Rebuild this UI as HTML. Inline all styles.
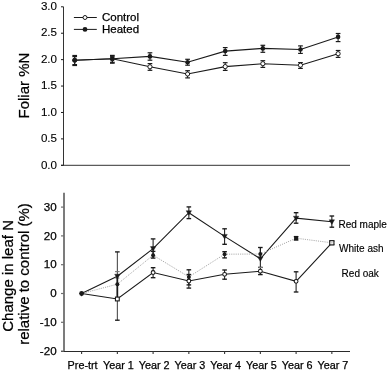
<!DOCTYPE html>
<html><head><meta charset="utf-8"><style>
html,body{margin:0;padding:0;background:#fff;}
body{width:388px;height:371px;overflow:hidden;}
svg{display:block;will-change:transform;font-family:"Liberation Sans",sans-serif;fill:#111;}
text{fill:#000;stroke:#000;stroke-width:0.25px;}
</style></head><body>
<svg width="388" height="371" viewBox="0 0 388 371">
<line x1="63.5" y1="6.80" x2="63.5" y2="165.3" stroke="#333" stroke-width="1"/>
<line x1="61" y1="165.3" x2="350" y2="165.3" stroke="#333" stroke-width="1"/>
<line x1="61" y1="165.30" x2="63.5" y2="165.30" stroke="#1a1a1a" stroke-width="1"/>
<text x="57" y="168.50" text-anchor="end" font-size="11.6" style="stroke-width:0.12px">0.0</text>
<line x1="61" y1="138.88" x2="63.5" y2="138.88" stroke="#1a1a1a" stroke-width="1"/>
<text x="57" y="142.08" text-anchor="end" font-size="11.6" style="stroke-width:0.12px">0.5</text>
<line x1="61" y1="112.47" x2="63.5" y2="112.47" stroke="#1a1a1a" stroke-width="1"/>
<text x="57" y="115.67" text-anchor="end" font-size="11.6" style="stroke-width:0.12px">1.0</text>
<line x1="61" y1="86.05" x2="63.5" y2="86.05" stroke="#1a1a1a" stroke-width="1"/>
<text x="57" y="89.25" text-anchor="end" font-size="11.6" style="stroke-width:0.12px">1.5</text>
<line x1="61" y1="59.63" x2="63.5" y2="59.63" stroke="#1a1a1a" stroke-width="1"/>
<text x="57" y="62.83" text-anchor="end" font-size="11.6" style="stroke-width:0.12px">2.0</text>
<line x1="61" y1="33.22" x2="63.5" y2="33.22" stroke="#1a1a1a" stroke-width="1"/>
<text x="57" y="36.42" text-anchor="end" font-size="11.6" style="stroke-width:0.12px">2.5</text>
<line x1="61" y1="6.80" x2="63.5" y2="6.80" stroke="#1a1a1a" stroke-width="1"/>
<text x="57" y="10.00" text-anchor="end" font-size="11.6" style="stroke-width:0.12px">3.0</text>
<text transform="translate(29.3,85.6) rotate(-90)" text-anchor="middle" font-size="15">Foliar %N</text>
<polyline points="74.70,60.20 112.33,58.80 149.96,66.80 187.59,74.00 225.21,66.60 262.84,63.70 300.47,65.20 338.10,53.70" fill="none" stroke="#1a1a1a" stroke-width="1.1"/>
<polyline points="74.70,60.20 112.33,58.80 149.96,56.40 187.59,62.20 225.21,51.10 262.84,48.40 300.47,49.50 338.10,36.90" fill="none" stroke="#1a1a1a" stroke-width="1.1"/>
<line x1="74.70" y1="56.60" x2="74.70" y2="64.60" stroke="#1a1a1a" stroke-width="1.0"/><line x1="72.35" y1="56.60" x2="77.05" y2="56.60" stroke="#1a1a1a" stroke-width="1.2"/><line x1="72.35" y1="64.60" x2="77.05" y2="64.60" stroke="#1a1a1a" stroke-width="1.2"/>
<line x1="112.33" y1="56.30" x2="112.33" y2="62.30" stroke="#1a1a1a" stroke-width="1.0"/><line x1="109.98" y1="56.30" x2="114.68" y2="56.30" stroke="#1a1a1a" stroke-width="1.2"/><line x1="109.98" y1="62.30" x2="114.68" y2="62.30" stroke="#1a1a1a" stroke-width="1.2"/>
<line x1="149.96" y1="63.60" x2="149.96" y2="70.30" stroke="#1a1a1a" stroke-width="1.0"/><line x1="147.61" y1="63.60" x2="152.31" y2="63.60" stroke="#1a1a1a" stroke-width="1.2"/><line x1="147.61" y1="70.30" x2="152.31" y2="70.30" stroke="#1a1a1a" stroke-width="1.2"/>
<line x1="187.59" y1="70.70" x2="187.59" y2="77.90" stroke="#1a1a1a" stroke-width="1.0"/><line x1="185.24" y1="70.70" x2="189.94" y2="70.70" stroke="#1a1a1a" stroke-width="1.2"/><line x1="185.24" y1="77.90" x2="189.94" y2="77.90" stroke="#1a1a1a" stroke-width="1.2"/>
<line x1="225.21" y1="62.70" x2="225.21" y2="70.40" stroke="#1a1a1a" stroke-width="1.0"/><line x1="222.86" y1="62.70" x2="227.56" y2="62.70" stroke="#1a1a1a" stroke-width="1.2"/><line x1="222.86" y1="70.40" x2="227.56" y2="70.40" stroke="#1a1a1a" stroke-width="1.2"/>
<line x1="262.84" y1="60.70" x2="262.84" y2="67.40" stroke="#1a1a1a" stroke-width="1.0"/><line x1="260.49" y1="60.70" x2="265.19" y2="60.70" stroke="#1a1a1a" stroke-width="1.2"/><line x1="260.49" y1="67.40" x2="265.19" y2="67.40" stroke="#1a1a1a" stroke-width="1.2"/>
<line x1="300.47" y1="62.60" x2="300.47" y2="68.40" stroke="#1a1a1a" stroke-width="1.0"/><line x1="298.12" y1="62.60" x2="302.82" y2="62.60" stroke="#1a1a1a" stroke-width="1.2"/><line x1="298.12" y1="68.40" x2="302.82" y2="68.40" stroke="#1a1a1a" stroke-width="1.2"/>
<line x1="338.10" y1="50.50" x2="338.10" y2="57.40" stroke="#1a1a1a" stroke-width="1.0"/><line x1="335.75" y1="50.50" x2="340.45" y2="50.50" stroke="#1a1a1a" stroke-width="1.2"/><line x1="335.75" y1="57.40" x2="340.45" y2="57.40" stroke="#1a1a1a" stroke-width="1.2"/>
<line x1="74.70" y1="55.50" x2="74.70" y2="65.50" stroke="#1a1a1a" stroke-width="1.0"/><line x1="72.35" y1="55.50" x2="77.05" y2="55.50" stroke="#1a1a1a" stroke-width="1.2"/><line x1="72.35" y1="65.50" x2="77.05" y2="65.50" stroke="#1a1a1a" stroke-width="1.2"/>
<line x1="112.33" y1="55.40" x2="112.33" y2="63.20" stroke="#1a1a1a" stroke-width="1.0"/><line x1="109.98" y1="55.40" x2="114.68" y2="55.40" stroke="#1a1a1a" stroke-width="1.2"/><line x1="109.98" y1="63.20" x2="114.68" y2="63.20" stroke="#1a1a1a" stroke-width="1.2"/>
<line x1="149.96" y1="52.80" x2="149.96" y2="60.20" stroke="#1a1a1a" stroke-width="1.0"/><line x1="147.61" y1="52.80" x2="152.31" y2="52.80" stroke="#1a1a1a" stroke-width="1.2"/><line x1="147.61" y1="60.20" x2="152.31" y2="60.20" stroke="#1a1a1a" stroke-width="1.2"/>
<line x1="187.59" y1="59.30" x2="187.59" y2="65.20" stroke="#1a1a1a" stroke-width="1.0"/><line x1="185.24" y1="59.30" x2="189.94" y2="59.30" stroke="#1a1a1a" stroke-width="1.2"/><line x1="185.24" y1="65.20" x2="189.94" y2="65.20" stroke="#1a1a1a" stroke-width="1.2"/>
<line x1="225.21" y1="47.60" x2="225.21" y2="55.40" stroke="#1a1a1a" stroke-width="1.0"/><line x1="222.86" y1="47.60" x2="227.56" y2="47.60" stroke="#1a1a1a" stroke-width="1.2"/><line x1="222.86" y1="55.40" x2="227.56" y2="55.40" stroke="#1a1a1a" stroke-width="1.2"/>
<line x1="262.84" y1="45.30" x2="262.84" y2="52.30" stroke="#1a1a1a" stroke-width="1.0"/><line x1="260.49" y1="45.30" x2="265.19" y2="45.30" stroke="#1a1a1a" stroke-width="1.2"/><line x1="260.49" y1="52.30" x2="265.19" y2="52.30" stroke="#1a1a1a" stroke-width="1.2"/>
<line x1="300.47" y1="45.90" x2="300.47" y2="53.40" stroke="#1a1a1a" stroke-width="1.0"/><line x1="298.12" y1="45.90" x2="302.82" y2="45.90" stroke="#1a1a1a" stroke-width="1.2"/><line x1="298.12" y1="53.40" x2="302.82" y2="53.40" stroke="#1a1a1a" stroke-width="1.2"/>
<line x1="338.10" y1="33.50" x2="338.10" y2="41.60" stroke="#1a1a1a" stroke-width="1.0"/><line x1="335.75" y1="33.50" x2="340.45" y2="33.50" stroke="#1a1a1a" stroke-width="1.2"/><line x1="335.75" y1="41.60" x2="340.45" y2="41.60" stroke="#1a1a1a" stroke-width="1.2"/>
<circle cx="74.70" cy="60.20" r="2.1" fill="#fff" stroke="#1a1a1a" stroke-width="1"/>
<circle cx="112.33" cy="58.80" r="2.1" fill="#fff" stroke="#1a1a1a" stroke-width="1"/>
<circle cx="149.96" cy="66.80" r="2.1" fill="#fff" stroke="#1a1a1a" stroke-width="1"/>
<circle cx="187.59" cy="74.00" r="2.1" fill="#fff" stroke="#1a1a1a" stroke-width="1"/>
<circle cx="225.21" cy="66.60" r="2.1" fill="#fff" stroke="#1a1a1a" stroke-width="1"/>
<circle cx="262.84" cy="63.70" r="2.1" fill="#fff" stroke="#1a1a1a" stroke-width="1"/>
<circle cx="300.47" cy="65.20" r="2.1" fill="#fff" stroke="#1a1a1a" stroke-width="1"/>
<circle cx="338.10" cy="53.70" r="2.1" fill="#fff" stroke="#1a1a1a" stroke-width="1"/>
<circle cx="74.70" cy="60.20" r="2.3" fill="#1a1a1a"/>
<circle cx="112.33" cy="58.80" r="2.3" fill="#1a1a1a"/>
<circle cx="149.96" cy="56.40" r="2.3" fill="#1a1a1a"/>
<circle cx="187.59" cy="62.20" r="2.3" fill="#1a1a1a"/>
<circle cx="225.21" cy="51.10" r="2.3" fill="#1a1a1a"/>
<circle cx="262.84" cy="48.40" r="2.3" fill="#1a1a1a"/>
<circle cx="300.47" cy="49.50" r="2.3" fill="#1a1a1a"/>
<circle cx="338.10" cy="36.90" r="2.3" fill="#1a1a1a"/>
<line x1="73.9" y1="17.5" x2="96.8" y2="17.5" stroke="#1a1a1a" stroke-width="1"/>
<circle cx="85" cy="17.5" r="2.0" fill="#fff" stroke="#1a1a1a" stroke-width="1"/>
<line x1="73.9" y1="29.4" x2="96.8" y2="29.4" stroke="#1a1a1a" stroke-width="1"/>
<circle cx="85" cy="29.4" r="2.4" fill="#1a1a1a"/>
<text x="102" y="20.6" font-size="11.5">Control</text>
<text x="102" y="32.5" font-size="11.5">Heated</text>
<line x1="64.0" y1="192.70" x2="64.0" y2="351.90" stroke="#6e6e6e" stroke-width="1.8"/>
<line x1="61" y1="351.50" x2="350" y2="351.50" stroke="#2a2a2a" stroke-width="1.1"/>
<line x1="61" y1="351.10" x2="64.0" y2="351.10" stroke="#6e6e6e" stroke-width="1.2"/>
<text x="56.6" y="354.80" text-anchor="end" font-size="11.6">-20</text>
<line x1="61" y1="322.30" x2="64.0" y2="322.30" stroke="#6e6e6e" stroke-width="1.2"/>
<text x="56.6" y="326.00" text-anchor="end" font-size="11.6">-10</text>
<line x1="61" y1="293.50" x2="64.0" y2="293.50" stroke="#6e6e6e" stroke-width="1.2"/>
<text x="56.6" y="297.20" text-anchor="end" font-size="11.6">0</text>
<line x1="61" y1="264.70" x2="64.0" y2="264.70" stroke="#6e6e6e" stroke-width="1.2"/>
<text x="56.6" y="268.40" text-anchor="end" font-size="11.6">10</text>
<line x1="61" y1="235.90" x2="64.0" y2="235.90" stroke="#6e6e6e" stroke-width="1.2"/>
<text x="56.6" y="239.60" text-anchor="end" font-size="11.6">20</text>
<line x1="61" y1="207.10" x2="64.0" y2="207.10" stroke="#6e6e6e" stroke-width="1.2"/>
<text x="56.6" y="210.80" text-anchor="end" font-size="11.6">30</text>
<line x1="81.60" y1="351.10" x2="81.60" y2="354.10" stroke="#333" stroke-width="1.1"/>
<text x="82.60" y="369.3" text-anchor="middle" font-size="10.8">Pre-trt</text>
<line x1="117.35" y1="351.10" x2="117.35" y2="354.10" stroke="#333" stroke-width="1.1"/>
<text x="118.35" y="369.3" text-anchor="middle" font-size="10.8">Year 1</text>
<line x1="153.10" y1="351.10" x2="153.10" y2="354.10" stroke="#333" stroke-width="1.1"/>
<text x="154.10" y="369.3" text-anchor="middle" font-size="10.8">Year 2</text>
<line x1="188.85" y1="351.10" x2="188.85" y2="354.10" stroke="#333" stroke-width="1.1"/>
<text x="189.85" y="369.3" text-anchor="middle" font-size="10.8">Year 3</text>
<line x1="224.60" y1="351.10" x2="224.60" y2="354.10" stroke="#333" stroke-width="1.1"/>
<text x="225.60" y="369.3" text-anchor="middle" font-size="10.8">Year 4</text>
<line x1="260.35" y1="351.10" x2="260.35" y2="354.10" stroke="#333" stroke-width="1.1"/>
<text x="261.35" y="369.3" text-anchor="middle" font-size="10.8">Year 5</text>
<line x1="296.10" y1="351.10" x2="296.10" y2="354.10" stroke="#333" stroke-width="1.1"/>
<text x="297.10" y="369.3" text-anchor="middle" font-size="10.8">Year 6</text>
<line x1="331.85" y1="351.10" x2="331.85" y2="354.10" stroke="#333" stroke-width="1.1"/>
<text x="332.85" y="369.3" text-anchor="middle" font-size="10.8">Year 7</text>
<text transform="translate(12.9,275.9) rotate(-90)" text-anchor="middle" font-size="15">Change in leaf N</text>
<text transform="translate(29.3,274) rotate(-90)" text-anchor="middle" font-size="15">relative to control (%)</text>
<polyline points="81.60,293.50 117.35,276.20 153.10,248.60 188.85,212.70 224.60,236.40 260.35,258.80 296.10,218.20 331.85,221.80" fill="none" stroke="#1a1a1a" stroke-width="1.1"/>
<polyline points="81.60,293.50 117.35,299.00 153.10,272.50 188.85,281.00 224.60,274.30 260.35,271.20 296.10,281.30 331.85,242.80" fill="none" stroke="#1a1a1a" stroke-width="1.1"/>
<polyline points="81.60,293.50 117.35,284.20 153.10,255.20 188.85,276.90 224.60,254.20 260.35,254.00 296.10,238.20 331.85,242.80" fill="none" stroke="#9a9a9a" stroke-width="0.85" stroke-dasharray="1.1,1.1"/>
<line x1="153.10" y1="238.90" x2="153.10" y2="258.10" stroke="#1a1a1a" stroke-width="1.05"/><line x1="150.80" y1="238.90" x2="155.40" y2="238.90" stroke="#1a1a1a" stroke-width="1.35"/>
<line x1="188.85" y1="206.90" x2="188.85" y2="218.60" stroke="#1a1a1a" stroke-width="1.05"/><line x1="186.55" y1="206.90" x2="191.15" y2="206.90" stroke="#1a1a1a" stroke-width="1.35"/><line x1="186.55" y1="218.60" x2="191.15" y2="218.60" stroke="#1a1a1a" stroke-width="1.35"/>
<line x1="224.60" y1="228.80" x2="224.60" y2="244.30" stroke="#1a1a1a" stroke-width="1.05"/><line x1="222.30" y1="228.80" x2="226.90" y2="228.80" stroke="#1a1a1a" stroke-width="1.35"/><line x1="222.30" y1="244.30" x2="226.90" y2="244.30" stroke="#1a1a1a" stroke-width="1.35"/>
<line x1="260.35" y1="247.50" x2="260.35" y2="267.40" stroke="#1a1a1a" stroke-width="1.05"/>
<line x1="296.10" y1="212.70" x2="296.10" y2="223.20" stroke="#1a1a1a" stroke-width="1.05"/><line x1="293.80" y1="212.70" x2="298.40" y2="212.70" stroke="#1a1a1a" stroke-width="1.35"/><line x1="293.80" y1="223.20" x2="298.40" y2="223.20" stroke="#1a1a1a" stroke-width="1.35"/>
<line x1="331.85" y1="216.00" x2="331.85" y2="227.20" stroke="#1a1a1a" stroke-width="1.05"/><line x1="329.55" y1="216.00" x2="334.15" y2="216.00" stroke="#1a1a1a" stroke-width="1.35"/><line x1="329.55" y1="227.20" x2="334.15" y2="227.20" stroke="#1a1a1a" stroke-width="1.35"/>
<line x1="153.10" y1="251.40" x2="153.10" y2="258.10" stroke="#1a1a1a" stroke-width="1.05"/><line x1="150.80" y1="251.40" x2="155.40" y2="251.40" stroke="#1a1a1a" stroke-width="1.35"/><line x1="150.80" y1="258.10" x2="155.40" y2="258.10" stroke="#1a1a1a" stroke-width="1.35"/>
<line x1="188.85" y1="269.80" x2="188.85" y2="284.90" stroke="#1a1a1a" stroke-width="1.05"/><line x1="186.55" y1="269.80" x2="191.15" y2="269.80" stroke="#1a1a1a" stroke-width="1.35"/><line x1="186.55" y1="284.90" x2="191.15" y2="284.90" stroke="#1a1a1a" stroke-width="1.35"/>
<line x1="224.60" y1="251.70" x2="224.60" y2="257.90" stroke="#1a1a1a" stroke-width="1.05"/><line x1="222.30" y1="251.70" x2="226.90" y2="251.70" stroke="#1a1a1a" stroke-width="1.35"/><line x1="222.30" y1="257.90" x2="226.90" y2="257.90" stroke="#1a1a1a" stroke-width="1.35"/>
<line x1="260.35" y1="247.50" x2="260.35" y2="260.00" stroke="#1a1a1a" stroke-width="1.05"/><line x1="258.05" y1="247.50" x2="262.65" y2="247.50" stroke="#1a1a1a" stroke-width="1.35"/>
<line x1="296.10" y1="236.60" x2="296.10" y2="240.00" stroke="#1a1a1a" stroke-width="1.05"/><line x1="293.80" y1="236.60" x2="298.40" y2="236.60" stroke="#1a1a1a" stroke-width="1.35"/><line x1="293.80" y1="240.00" x2="298.40" y2="240.00" stroke="#1a1a1a" stroke-width="1.35"/>
<line x1="331.85" y1="241.20" x2="331.85" y2="244.40" stroke="#1a1a1a" stroke-width="1.05"/><line x1="329.55" y1="241.20" x2="334.15" y2="241.20" stroke="#1a1a1a" stroke-width="1.35"/><line x1="329.55" y1="244.40" x2="334.15" y2="244.40" stroke="#1a1a1a" stroke-width="1.35"/>
<line x1="153.10" y1="267.70" x2="153.10" y2="277.70" stroke="#1a1a1a" stroke-width="1.05"/><line x1="150.80" y1="267.70" x2="155.40" y2="267.70" stroke="#1a1a1a" stroke-width="1.35"/><line x1="150.80" y1="277.70" x2="155.40" y2="277.70" stroke="#1a1a1a" stroke-width="1.35"/>
<line x1="188.85" y1="274.50" x2="188.85" y2="288.10" stroke="#1a1a1a" stroke-width="1.05"/><line x1="186.55" y1="274.50" x2="191.15" y2="274.50" stroke="#1a1a1a" stroke-width="1.35"/><line x1="186.55" y1="288.10" x2="191.15" y2="288.10" stroke="#1a1a1a" stroke-width="1.35"/>
<line x1="224.60" y1="270.00" x2="224.60" y2="279.20" stroke="#1a1a1a" stroke-width="1.05"/><line x1="222.30" y1="270.00" x2="226.90" y2="270.00" stroke="#1a1a1a" stroke-width="1.35"/><line x1="222.30" y1="279.20" x2="226.90" y2="279.20" stroke="#1a1a1a" stroke-width="1.35"/>
<line x1="260.35" y1="267.40" x2="260.35" y2="274.60" stroke="#1a1a1a" stroke-width="1.05"/><line x1="258.05" y1="267.40" x2="262.65" y2="267.40" stroke="#1a1a1a" stroke-width="1.35"/><line x1="258.05" y1="274.60" x2="262.65" y2="274.60" stroke="#1a1a1a" stroke-width="1.35"/>
<line x1="296.10" y1="271.80" x2="296.10" y2="292.00" stroke="#1a1a1a" stroke-width="1.05"/><line x1="293.80" y1="271.80" x2="298.40" y2="271.80" stroke="#1a1a1a" stroke-width="1.35"/><line x1="293.80" y1="292.00" x2="298.40" y2="292.00" stroke="#1a1a1a" stroke-width="1.35"/>
<line x1="331.85" y1="241.20" x2="331.85" y2="244.40" stroke="#1a1a1a" stroke-width="1.05"/><line x1="329.55" y1="241.20" x2="334.15" y2="241.20" stroke="#1a1a1a" stroke-width="1.35"/><line x1="329.55" y1="244.40" x2="334.15" y2="244.40" stroke="#1a1a1a" stroke-width="1.35"/>
<line x1="117.35" y1="251.90" x2="117.35" y2="320.20" stroke="#444" stroke-width="1.05"/><line x1="115.05" y1="251.90" x2="119.65" y2="251.90" stroke="#1a1a1a" stroke-width="1.35"/><line x1="115.05" y1="320.20" x2="119.65" y2="320.20" stroke="#1a1a1a" stroke-width="1.35"/>
<line x1="115.05" y1="271.6" x2="119.65" y2="271.6" stroke="#777" stroke-width="1.1"/>
<line x1="115.35" y1="278.1" x2="119.35" y2="278.1" stroke="#777" stroke-width="1.0"/>
<line x1="117.35" y1="276" x2="117.35" y2="299" stroke="#1a1a1a" stroke-width="1.7"/>
<line x1="258.35" y1="267.4" x2="262.35" y2="267.4" stroke="#888" stroke-width="1.0"/>
<rect x="115.45" y="297.10" width="3.8" height="3.8" fill="#fff" stroke="#1a1a1a" stroke-width="1.1"/>
<circle cx="153.10" cy="272.50" r="1.9" fill="#fff" stroke="#1a1a1a" stroke-width="1.05"/>
<circle cx="188.85" cy="281.00" r="1.9" fill="#fff" stroke="#1a1a1a" stroke-width="1.05"/>
<circle cx="224.60" cy="274.30" r="1.9" fill="#fff" stroke="#1a1a1a" stroke-width="1.05"/>
<circle cx="260.35" cy="271.20" r="1.9" fill="#fff" stroke="#1a1a1a" stroke-width="1.05"/>
<circle cx="296.10" cy="281.30" r="1.9" fill="#fff" stroke="#1a1a1a" stroke-width="1.05"/>
<circle cx="117.35" cy="284.20" r="2.0" fill="#1a1a1a"/>
<circle cx="153.10" cy="255.20" r="2.0" fill="#1a1a1a"/>
<circle cx="188.85" cy="276.90" r="2.0" fill="#1a1a1a"/>
<circle cx="224.60" cy="254.20" r="2.0" fill="#1a1a1a"/>
<circle cx="260.35" cy="254.00" r="2.0" fill="#1a1a1a"/>
<rect x="294.10" y="236.20" width="4.0" height="4.0" fill="#1a1a1a"/>
<rect x="329.75" y="240.70" width="4.2" height="4.2" fill="#fff" stroke="#1a1a1a" stroke-width="1.1"/>
<rect x="331.15" y="242.10" width="1.4" height="1.4" fill="#bbb"/>
<path d="M114.65,274.20 L120.05,274.20 L117.35,278.80 Z" fill="#1a1a1a" stroke="#1a1a1a" stroke-width="0.4" stroke-linejoin="round"/>
<path d="M150.40,246.60 L155.80,246.60 L153.10,251.20 Z" fill="#1a1a1a" stroke="#1a1a1a" stroke-width="0.4" stroke-linejoin="round"/>
<path d="M186.15,210.70 L191.55,210.70 L188.85,215.30 Z" fill="#1a1a1a" stroke="#1a1a1a" stroke-width="0.4" stroke-linejoin="round"/>
<path d="M221.90,234.40 L227.30,234.40 L224.60,239.00 Z" fill="#1a1a1a" stroke="#1a1a1a" stroke-width="0.4" stroke-linejoin="round"/>
<path d="M257.65,256.80 L263.05,256.80 L260.35,261.40 Z" fill="#1a1a1a" stroke="#1a1a1a" stroke-width="0.4" stroke-linejoin="round"/>
<path d="M293.40,216.20 L298.80,216.20 L296.10,220.80 Z" fill="#1a1a1a" stroke="#1a1a1a" stroke-width="0.4" stroke-linejoin="round"/>
<path d="M329.15,219.80 L334.55,219.80 L331.85,224.40 Z" fill="#1a1a1a" stroke="#1a1a1a" stroke-width="0.4" stroke-linejoin="round"/>
<circle cx="81.60" cy="293.50" r="2.4" fill="#1a1a1a"/>
<path d="M79.20,292.90 L84.00,292.90 L81.60,296.40 Z" fill="#1a1a1a"/>
<text x="338.5" y="227.9" font-size="10" style="stroke-width:0.15px">Red maple</text>
<text x="339.1" y="251.6" font-size="10" style="stroke-width:0.15px">White ash</text>
<text x="341.6" y="276.5" font-size="10" style="stroke-width:0.15px">Red oak</text>
</svg>
</body></html>
